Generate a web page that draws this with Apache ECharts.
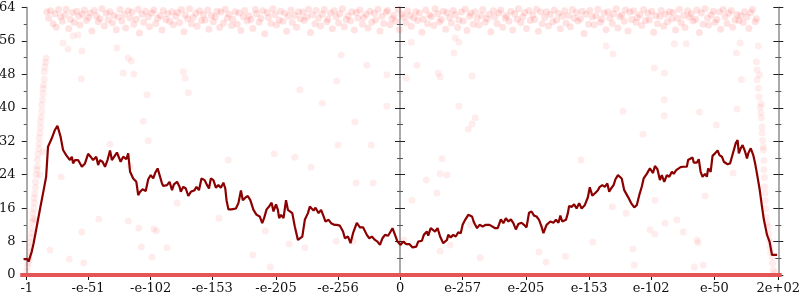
<!DOCTYPE html>
<html>
<head>
<meta charset="utf-8">
<script src="https://cdn.jsdelivr.net/npm/echarts@6/dist/echarts.min.js"></script>
<style>html,body{margin:0;padding:0;background:#fff;}#c{width:800px;height:300px;}</style>
</head>
<body>
<div id="c"></div>
<script>
// x positions are in hundredths of a tick step along the ordered-float axis
const tickPos = [0, 98, 198, 296, 398, 497, 596, 696, 797, 898, 997, 1098, 1200];
const tickLabels = ["-1", "-e-51", "-e-102", "-e-153", "-e-205", "-e-256", "0", "e-257", "e-205", "e-153", "e-102", "e-50", "2e+02"];

// moving-average line
const lineX = [-5,1,3,8,11,16,21,27,31,34, 40,45,49,52,54,58,63,66,69,72, 74,77,82,88,93,98,102,106,111,114,
 117,121,125,129,133,136,139,144,147,150, 154,159,162,165,170,175,178,181,185,190, 194,198,202,205,209,212,216,218,224,228,
 232,235,240,244,246,250,254,258,262,268, 271,275,279,284,288,291,294,298,302,306, 310,314,317,319,322,327,334,338,342,345,
 349,353,357,362,367,372,376,379,383,387, 391,394,398,401,403,406,410,414,417,420, 424,428,433,436,440,444,449,452,455,458,
 461,466,470,474,477,482,486,491,495,500, 505,508,513,517,521,527,532,537,543,547, 551,556,560,564,568,572,577,581,584,588,
 592,595,597,601,606,611,616,622,625,631, 634,639,641,645,648,652,656,660,665,671, 673,677,681,685,689,693,696,700,705,711,
 714,719,723,728,733,739,742,748,752,757, 761,765,769,773,777,781,785,790,794,798, 802,806,810,814,818,822,825,830,836,841,
 845,849,852,855,861,864,866,870,874,878, 882,886,891,896,899,903,907,912,915,919, 923,927,930,933,937,940,944,947,950,954,
 960,965,970,974,978,982,985,990,995,1000, 1003,1007,1011,1014,1018,1022,1026,1030,1033,1037, 1040,1044,1048,1054,1056,1059,1063,1065,1070,1073,
 1076,1079,1083,1086,1088,1092,1095,1099,1103,1106, 1110,1113,1119,1123,1126,1129,1132,1135,1137,1140, 1143,1147,1150,1152,1156,1160,1163,1166,1170,1174,
 1177,1182,1186,1190,1193,1198];
const lineY = [3.8,3.8,3.2,5.6,7.6,11.6,15.6,20.3,23.5,30.7, 32.7,34.7,35.7,35.7,33.1,29.9,28.7,28.5,27.5,28.3, 26.7,27.5,27.5,25.9,26.7,29.0,28.3,27.5,28.3,26.3,
 27.5,27.1,25.9,27.5,29.8,27.5,27.1,29.3,29.3,27.1, 28.3,27.7,29.1,24.7,23.1,22.3,19.1,19.9,20.5,20.1, 22.9,23.9,23.1,24.4,25.5,25.9,21.9,21.3,21.5,22.3,
 20.3,21.7,22.3,21.1,19.9,21.1,20.7,18.9,19.9,20.3, 21.1,20.3,23.1,22.7,21.5,20.7,23.1,22.7,20.9,21.5, 20.9,22.1,20.7,17.9,15.7,15.7,15.9,17.2,20.2,17.9,
 18.5,18.9,17.9,15.6,14.4,14.0,12.4,13.6,15.7,16.4, 17.3,15.2,16.9,15.6,13.6,14.4,13.6,17.9,15.6,15.9, 14.8,11.6,8.4,8.0,9.2,13.2,14.8,16.4,16.7,15.4,
 16.1,14.8,15.6,14.0,12.8,13.2,12.4,12.0,12.0,11.8, 10.4,8.8,9.2,7.6,10.0,12.5,11.4,11.4,9.6,8.8, 9.2,8.4,8.0,7.2,8.8,9.6,9.4,10.4,11.2,9.6,
 8.0,8.4,7.2,8.0,7.4,7.4,6.6,6.8,8.0,8.2, 9.6,10.4,9.4,11.2,11.6,10.4,11.2,9.2,7.6,8.4, 9.6,9.0,9.6,9.2,10.2,10.0,12.0,13.2,14.4,14.0,
 12.6,11.2,12.0,11.6,12.0,12.0,12.0,11.2,11.2,13.3, 12.4,13.6,12.8,13.3,12.4,10.9,12.2,12.5,12.0,11.4, 14.9,15.2,14.2,14.0,13.2,11.6,10.0,12.0,12.8,12.5,
 13.2,12.5,14.2,12.8,13.2,14.8,16.5,16.3,16.9,15.9, 17.2,15.9,16.7,18.6,21.0,19.0,19.5,20.3,21.1,21.5, 21.1,21.9,19.9,20.7,21.5,22.9,23.9,24.3,23.1,20.3,
 18.7,17.2,16.2,16.7,19.1,21.1,23.1,24.2,25.5,24.4, 26.1,25.3,22.7,23.9,22.3,23.9,23.5,24.7,24.2,25.1, 24.9,25.8,25.9,25.9,27.5,27.1,28.1,26.9,26.9,27.7,
 24.7,23.5,24.2,23.5,25.5,24.7,28.5,29.1,29.8,28.7, 28.3,27.1,26.5,26.7,28.3,28.3,31.5,32.3,29.1,30.3, 31.1,29.5,27.9,29.1,30.3,28.7,26.7,24.2,20.7,16.3,
 13.2,9.6,8.0,4.8,4.8,4.8];

// dense band of samples near the top
const topX = [32,35,38,42,45,47,51,54,57,61,63,67,70,73,76,80,83,85,89,92,95,99,101,104,108,111,114,117,120,124,127,130,133,137,139,143,146,149,152,156,158,162,165,168,171,175,178,180,184,187,190,194,196,200,203,206,209,213,216,218,222,225,228,232,234,238,241,244,247,251,253,257,260,263,266,270,272,276,279,282,285,289,291,295,298,301,304,308,310,314,317,320,323,327,329,333,336,339,342,346,348,352,355,358,361,365,367,371,374,377,380,384,386,390,393,396,399,403,405,409,412,415,418,422,424,428,431,434,437,441,443,447,450,453,456,460,462,466,469,472,475,479,481,485,488,491,494,498,500,504,507,510,513,517,519,523,526,529,532,536,538,542,545,548,551,555,557,561,564,567,570,574,576,580,583,586,589,593,595,599,602,605,608,612,614,618,621,624,627,631,633,637,640,643,646,650,652,656,659,662,665,669,671,675,678,681,684,688,690,694,697,700,703,707,709,713,716,719,722,726,728,732,735,738,741,745,747,751,754,757,760,764,766,770,773,776,779,783,785,789,792,795,798,802,804,808,811,814,817,821,823,827,830,833,836,840,842,846,849,852,855,859,861,865,868,871,874,878,880,884,887,890,893,897,899,903,906,909,912,916,918,922,925,928,931,935,937,941,944,947,950,954,956,960,963,966,969,973,975,979,982,985,988,992,994,998,1001,1004,1007,1011,1013,1017,1020,1023,1026,1030,1032,1036,1039,1042,1045,1049,1051,1055,1058,1061,1064,1068,1070,1074,1077,1080,1083,1087,1089,1093,1096,1099,1102,1106,1108,1112,1115,1118,1121,1125,1127,1131,1134,1137,1140,1144,1146,1150,1153,1156,1159,1163,1165];
const topY = [62.9,61.4,63.2,60.1,62.5,59.3,63.5,61.8,60.7,62.2, 63.6,58.9,61.1,62.8,60.4,63.1,61.9,59.8,62.4,63.4, 60.9,61.6,62.7,58.4,63.3,62.0,60.6,61.3,63.7,59.6,
 62.6,61.0,63.0,60.3,62.1,58.7,61.7,63.5,60.8,62.3, 59.1,63.2,61.5,62.9,60.0,61.2,63.6,57.9,62.4,60.5, 63.1,61.8,59.4,62.7,63.4,60.2,61.4,62.0,58.6,63.3,
 61.1,62.5,60.7,63.0,59.9,61.9,62.8,60.4,63.5,58.2, 62.2,61.3,63.7,60.1,61.6,62.6,59.5,63.2,60.9,62.3, 61.0,63.4,58.8,62.1,60.6,61.7,63.1,59.2,62.9,60.3,
 63.6,61.5,62.4,59.7,61.2,63.0,60.0,62.7,58.5,61.8, 63.3,60.8,62.0,61.1,59.0,63.5,62.5,60.5,61.4,63.2, 57.7,62.8,61.6,60.2,63.7,62.3,59.8,61.0,63.1,60.7,
 62.6,58.3,61.9,63.4,60.4,62.1,59.3,63.0,61.3,62.9, 60.9,61.7,63.6,58.0,62.2,60.1,63.3,61.5,59.6,62.4, 63.5,60.6,61.2,62.7,58.9,63.2,61.8,60.3,62.5,63.7,
 59.4,61.1,62.0,60.8,63.0,58.6,62.8,61.4,63.4,60.0, 61.6,62.3,59.1,63.1,60.5,62.6,61.0,63.6,58.4,61.9, 60.2,62.9,63.3,59.9,61.3,62.1,60.7,63.5,58.7,62.4,
 61.7,60.4,63.2,62.0,59.5,61.5,63.0,60.9,62.7,58.1, 61.2,63.4,60.1,62.2,61.8,59.7,63.7,62.5,60.6,61.1, 63.1,58.8,62.8,61.6,60.3,63.3,62.3,59.2,61.0,62.9,
 60.8,63.6,58.5,61.9,62.6,60.0,63.0,61.4,59.8,62.1, 63.5,60.5,61.3,62.4,58.2,63.2,61.7,60.2,62.7,63.4, 59.3,61.5,62.0,60.7,63.1,58.6,62.5,61.2,63.7,60.4,
 61.8,62.8,59.0,63.3,60.9,62.2,61.1,63.6,58.3,62.9, 60.1,61.6,63.0,59.6,62.3,60.6,63.4,61.0,62.6,58.9, 61.9,63.2,60.3,62.1,59.4,63.5,61.4,62.8,60.8,61.3,
 63.1,57.8,62.4,60.0,63.3,61.7,59.9,62.0,63.6,60.5, 61.2,62.7,58.7,63.0,61.5,60.2,62.5,63.7,59.1,61.8, 62.2,60.7,63.4,58.4,62.9,61.1,63.2,60.4,61.6,62.3,
 59.7,63.5,60.9,62.6,61.0,63.1,58.1,62.0,60.1,61.9, 63.3,59.5,62.4,60.6,63.0,61.3,62.8,58.6,61.4,63.6, 60.3,62.1,59.2,63.2,61.7,62.5,60.8,61.2,63.4,58.0,
 62.7,60.0,63.7,61.5,59.8,62.2,63.1,60.5,61.1,62.9, 58.8,63.5,61.8,60.2,62.6,63.3,59.3,61.0,62.3,60.9, 62.1,60.4,63.0,61.7,59.0,62.8,63.6,60.6,61.3,62.4,
 58.5,63.2,61.9,60.1,62.7,63.4,59.6,61.5,62.0,60.8, 63.1,58.3,62.5,61.2,63.7,60.3,61.8,62.9,59.4,63.0];

// sparse samples (edges and strays)
const strayPoints = [
 [0,0.8],[1,2.0],[2,2.9],[3,4.2],[4,3.6],[5,5.5],[5,6.7],[6,7.8],[7,9.0],[8,10.0],[8,11.2],[9,12.7],[10,13.5],[10,14.8],[11,16.0],[12,17.3],[12,18.4],[13,19.5],[14,21.0],[14,22.3],[15,24.0],[16,25.2],[17,26.0],[17,27.6],[18,28.9],[19,30.2],[20,31.4],[20,32.8],[21,34.0],[22,35.3],[22,36.6],[23,37.8],[24,39.2],[24,40.7],[25,41.9],[26,43.4],[26,44.6],[27,45.5],[28,46.9],[28,48.6],[29,49.8],[30,50.9],[31,51.9],[26,29.5],[21,23.9],[13,13.2],
 [1165,51.0],[1166,49.1],[1166,46.7],[1168,44.7],[1169,42.6],[1171,40.2],[1172,38.8],[1173,37.6],[1174,35.4],[1174,34.0],[1175,32.2],[1176,30.6],[1176,29.9],[1177,27.4],[1177,25.2],[1178,23.3],[1178,21.1],[1179,19.6],[1179,17.8],[1180,15.9],[1180,13.9],[1182,12.4],[1184,11.5],[1185,9.8],[1186,8.2],[1187,6.7],[1188,5.4],[1190,4.3],[1191,2.8],[1192,1.2],[1194,0.5],[1168,54.8],[1170,47.9],[1173,41.0],
 [58,55.5],[66,54.1],[88,53.6],[74,57.2],[87,46.9],[144,54.3],[162,51.9],[167,51.2],[154,48.3],[171,48.1],[192,43.1],[186,36.8],[194,32.1],[250,48.6],[253,47.1],[258,43.6],[82,57.4],[133,31.3],
 [55,23.5],[115,13.4],[88,10.3],[37,6.0],[68,3.8],[91,2.9],[162,12.9],[165,26.1],[179,11.2],[183,6.7],[200,4.3],[203,11.0],[207,10.5],[224,6.5],[240,17.2],
 [395,29.0],[428,28.2],[454,25.8],[526,22.0],[553,22.0],[307,13.6],[381,10.5],[494,8.1],[521,8.1],[444,6.5],[419,7.4],[361,4.8],[389,1.9],[322,27.5],
 [663,27.8],[671,23.9],[638,22.7],[615,17.9],[655,19.6],[660,24.2],[676,7.2],[660,5.7],[724,4.1],[708,12.0],[818,5.5],[829,3.1],[860,4.5],[904,7.9],[885,27.5],[824,11.2],[602,8.4],
 [935,16.3],[957,14.8],[995,10.8],[1003,9.8],[1019,12.4],[1038,13.2],[1048,10.3],[1072,7.7],[1083,18.9],[968,6.2],[970,2.4],[1066,1.9],[1080,2.4],[1070,8.4],[1128,24.4],[1003,17.9],
 [925,54.8],[936,52.9],[1002,49.5],[1018,48.3],[1018,41.9],[1018,38.1],[952,39.2],[1074,39.0],[1101,35.9],[984,33.7],[1134,39.7],[1141,46.7],[1133,53.1],[1139,55.5],[1053,55.3],[1034,55.3],
 [502,52.6],[543,50.2],[575,47.9],[495,46.4],[472,41.1],[575,40.4],[682,53.1],[711,47.6],[690,40.4],[623,50.2],[606,47.1],[657,48.3],[660,47.4],[524,36.6],[550,31.1],[497,31.1],[716,37.6],[711,36.1],[705,34.9],[436,44.3],[614,55.7],[684,56.7],[690,55.7]
];

// samples whose value is 0 (x positions)
const zeroX = [-4,2,7,13,18,24,30,35,41,46,52,58,63,69,74,80,86,91,97,102,108,114,119,125,130,136,142,147,153,158,164,170,175,181,186,192,198,203,209,214,220,226,231,237,242,248,254,259,265,270,276,282,287,293,298,304,310,315,321,326,332,338,343,349,354,360,366,371,377,382,388,394,399,405,410,416,422,427,433,438,444,450,455,461,466,472,478,483,489,494,500,506,511,517,522,528,534,539,545,550,556,562,567,573,578,584,590,595,601,606,612,618,623,629,634,640,646,651,657,662,668,674,679,685,690,696,702,707,713,718,724,730,735,741,746,752,758,763,769,774,780,786,791,797,802,808,814,819,825,830,836,842,847,853,858,864,870,875,881,886,892,898,903,909,914,920,926,931,937,942,948,954,959,965,970,976,982,987,993,998,1004,1010,1015,1021,1026,1032,1038,1043,1049,1054,1060,1066,1071,1077,1082,1088,1094,1099,1105,1110,1116,1122,1127,1133,1138,1144,1150,1155,1161,1166,1172,1178,1183,1189,1194,1199];

const X_MIN = -5, X_MAX = 1200;
const CENTER = 596;

const lineData = lineX.map((x, i) => [x, lineY[i]]);
const nTop = Math.min(topX.length, topY.length);
const topData = [];
for (let i = 0; i < nTop; i++) topData.push([topX[i], topY[i]]);
const zeroData = zeroX.map(x => [x, 0]);

const chart = echarts.init(document.getElementById('c'), null, {renderer: 'canvas'});
const GRID = {left: 23.6, right: 21.7, top: 7.5, bottom: 25, outerBoundsMode: 'none'};
const plotW = 800 - GRID.left - GRID.right;
const centerPx = (CENTER - X_MIN) / (X_MAX - X_MIN) * plotW;

const FONT = 'DejaVu Serif';
const GRAY = '#aaaaaa';
function yBase(extra) {
  return Object.assign({
    type: 'value', min: 0, max: 64, interval: 8,
    splitLine: {show: false},
    axisLabel: {show: false},
    axisLine: {show: false},
    axisTick: {show: true, length: 5, lineStyle: {color: '#222', width: 1}},
    minorTick: {show: true, splitNumber: 2, length: 3, lineStyle: {color: '#555', width: 1}}
  }, extra);
}

chart.setOption({
  animation: false,
  backgroundColor: '#fff',
  grid: GRID,
  xAxis: [{
    type: 'value', min: X_MIN, max: X_MAX, position: 'bottom',
    splitLine: {show: false},
    axisLine: {show: false},
    axisTick: {show: true, customValues: tickPos, length: 5, lineStyle: {color: '#111'}},
    axisLabel: {
      show: true, customValues: tickPos, margin: 7, align: 'center',
      alignMinLabel: 'center', alignMaxLabel: 'center', hideOverlap: false,
      fontFamily: FONT, fontSize: 13, color: '#111',
      formatter: v => { const k = tickPos.indexOf(v); return k >= 0 ? tickLabels[k] : ''; }
    }
  }, {
    type: 'value', min: X_MIN, max: X_MAX, position: 'top',
    splitLine: {show: false},
    axisLine: {show: true, lineStyle: {color: GRAY, width: 2}},
    axisTick: {show: false}, axisLabel: {show: false}
  }],
  yAxis: [
    yBase({position: 'left',
      axisLine: {show: true, lineStyle: {color: GRAY, width: 2}},
      axisLabel: {show: true, margin: 8, fontFamily: FONT, fontSize: 13, color: '#111'}}),
    yBase({position: 'left', offset: -centerPx,
      axisLine: {show: true, lineStyle: {color: GRAY, width: 2}}}),
    yBase({position: 'left', offset: -centerPx,
      axisTick: {show: true, inside: true, length: 5, lineStyle: {color: '#222'}}}),
    yBase({position: 'right',
      axisLine: {show: true, lineStyle: {color: GRAY, width: 2}}}),
    yBase({position: 'right',
      axisTick: {show: true, inside: true, length: 5, lineStyle: {color: '#222'}}})
  ],
  series: [
    {type: 'scatter', data: topData, symbolSize: 7, itemStyle: {color: 'rgba(255,0,0,0.14)'}, z: 2, silent: true},
    {type: 'scatter', data: strayPoints, symbolSize: 7, itemStyle: {color: 'rgba(255,0,0,0.09)'}, z: 2, silent: true},
    {type: 'scatter', data: zeroData, symbol: 'rect', symbolSize: [8, 4], itemStyle: {color: '#e45656', opacity: 1}, z: 3, silent: true},
    {type: 'line', data: lineData, showSymbol: false, symbol: 'none', z: 4,
     lineStyle: {color: '#8b0000', width: 2.2}}
  ]
});
</script>
</body>
</html>
